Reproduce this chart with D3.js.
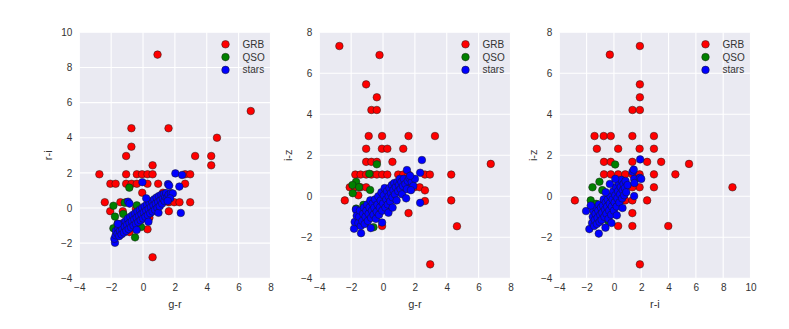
<!DOCTYPE html>
<html><head><meta charset="utf-8">
<script src="https://cdn.jsdelivr.net/npm/d3@7"></script>
<style>body{margin:0;background:#fff;} text{font-family:"Liberation Sans",Arial,sans-serif;}</style>
</head><body>
<svg id="c" width="789" height="329"></svg>
<script>
// ---------- data ----------
const seriesNames = ["GRB", "QSO", "stars"];
const seriesColors = ["#ff0000", "#008000", "#0000ff"];

// Panel 1: g-r vs r-i
const grbGrRi = [[0.91,8.73],[6.76,5.52],[-0.73,4.54],[1.6,4.54],[4.64,4.0],[-0.73,3.49],[-1.06,2.96],[3.27,2.96],[4.28,2.96],[4.28,2.43],[0.6,2.43],
 [-2.74,1.92],[-1.06,1.92],[-0.39,1.92],[-0.06,1.92],[0.28,1.92],[0.6,1.92],[2.64,1.92],[2.96,1.92],
 [-2.05,1.38],[-1.72,1.38],[-1.06,1.38],[-0.72,1.38],[-0.39,1.38],[0.28,1.38],[0.95,1.38],[2.64,1.38],
 [-0.05,0.87],[1.25,0.87],
 [-2.4,0.33],[-1.42,0.33],[-1.06,0.33],[0.95,0.33],[1.62,0.33],[1.96,0.33],[2.29,0.33],[2.96,0.33],
 [1.62,-0.18],[-2.06,-0.18],[-1.27,-0.18],[0.28,-1.21],[-0.85,-1.37],[0.6,-2.8],[-0.45,-0.05],[0.4,-0.55]];
const qsoGrRi = [[-0.86,1.16],[-1.86,0.13],[-1.76,-0.49],[-1.86,-1.15],[-0.5,-1.67],[-0.12,-1.08],[-1.24,-0.34],[-1.15,0.3],[-0.39,0.15],[-1.6,-0.9]];
const starsGrRi = [[-1.76,-1.98],[-1.8,-1.75],[-1.72,-1.55],[-1.7,-1.3],[-1.6,-1.45],[-1.55,-1.15],[-1.5,-1.6],[-1.45,-1.3],[-1.4,-1.0],[-1.35,-1.5],[-1.3,-1.2],[-1.25,-0.85],[-1.2,-1.4],[-1.15,-1.05],[-1.1,-0.75],[-1.05,-1.3],[-1.0,-0.95],[-0.95,-0.6],[-0.9,-1.2],[-0.85,-0.85],[-0.8,-0.5],[-0.75,-1.1],[-0.7,-0.75],[-0.65,-0.4],[-0.6,-1.0],[-0.55,-0.65],[-0.5,-0.3],[-0.45,-0.9],[-0.4,-0.55],[-0.4,-1.25],[-0.35,-0.2],[-0.3,-0.8],[-0.25,-0.45],[-0.2,-0.1],[-0.15,-0.7],[-0.1,-0.35],[-0.05,0.0],[0.0,-0.6],[0.05,-0.25],[0.1,0.1],[0.15,-0.5],[0.2,-0.15],[0.25,0.2],[0.3,-0.4],[0.34,-0.78],[0.35,-0.05],[0.4,0.3],[0.45,-0.3],[0.5,0.05],[0.55,0.4],[0.6,-0.2],[0.65,0.15],[0.7,0.5],[0.75,-0.1],[0.8,0.25],[0.85,0.6],[0.9,0.0],[0.95,0.35],[0.97,-0.27],[1.0,0.68],[1.05,0.1],[1.1,0.45],[1.15,0.75],[1.2,0.25],[1.25,0.55],[1.3,0.8],[1.35,0.4],[1.4,0.65],[1.45,0.85],[1.53,0.6],[1.6,0.75],[1.75,0.85],[1.87,0.83],[1.7,0.55],[1.55,0.4],
 [2.03,1.97],[2.45,1.88],[2.28,1.22],[1.57,1.36],[1.64,1.28],[-0.04,1.47],[-0.94,0.36],[-0.85,0.25],[2.37,-0.28],[0.2,0.55],[-1.58,-0.9]];

// Panel 2: g-r vs i-z
const grbGrIz = [[-2.74,7.33],[-0.22,6.89],[-1.06,5.46],[-0.39,4.83],[-0.73,4.21],[-0.39,4.21],
 [-0.9,2.94],[-0.06,2.94],[1.6,2.94],[3.26,2.94],
 [-1.06,2.32],[-0.07,2.32],[0.27,2.32],[1.27,2.32],
 [-1.06,1.68],[-0.73,1.68],[-0.39,1.68],[0.59,1.68],[6.76,1.58],
 [-1.74,1.06],[-1.41,1.06],[-1.06,1.06],[-0.73,1.06],[-0.39,1.06],[-0.05,1.06],[0.27,1.06],[0.95,1.06],[1.27,1.06],[1.6,1.06],[2.63,1.06],[2.94,1.06],[4.28,1.06],
 [-2.09,0.44],[-1.76,0.44],[-1.42,0.44],[-1.06,0.44],[1.64,0.44],[1.97,0.44],[2.3,0.44],
 [2.63,0.29],[2.63,-0.23],[4.28,-0.2],[-2.4,-0.2],[-1.55,0.05],[1.6,-0.82],[4.64,-1.46],[-0.06,-1.45],[2.96,-3.32]];
const qsoGrIz = [[-0.39,1.56],[-0.86,1.1],[-1.69,0.71],[-1.92,0.55],[-1.9,0.15],[-0.81,0.31],[-1.23,-0.42],[-1.69,-0.6],[-0.6,-1.51],[-1.5,0.45]];
const starsGrIz = [[-1.82,-1.58],[-1.78,-1.25],[-1.7,-0.65],[-1.65,-0.95],[-1.55,-1.3],[-1.5,-1.0],[-1.45,-0.7],[-1.38,-1.8],[-1.4,-1.45],[-1.3,-1.2],[-1.25,-0.85],[-1.2,-0.55],[-1.15,-1.35],[-1.1,-1.0],[-1.05,-0.7],[-1.0,-0.4],[-0.95,-1.2],[-0.9,-0.85],[-0.85,-0.55],[-0.8,-0.2],[-0.77,-1.55],[-0.75,-1.05],[-0.7,-0.7],[-0.65,-0.35],[-0.6,-0.9],[-0.55,-0.55],[-0.5,-0.15],[-0.45,-1.1],[-0.4,-0.75],[-0.35,-0.4],[-0.3,0.0],[-0.25,-0.9],[-0.2,-0.55],[-0.15,-0.2],[-0.1,0.2],[-0.06,-1.28],[-0.05,-0.7],[0.0,-0.35],[0.05,0.05],[0.1,0.4],[0.15,-0.55],[0.2,-0.15],[0.25,0.25],[0.3,-0.4],[0.34,-0.8],[0.35,0.0],[0.4,0.4],[0.45,-0.25],[0.5,0.15],[0.55,0.55],[0.6,-0.05],[0.65,0.3],[0.7,0.65],[0.75,0.1],[0.8,0.45],[0.85,-0.2],[0.9,0.7],[0.95,0.25],[1.0,0.55],[1.05,0.85],[1.1,0.35],[1.15,0.7],[1.2,0.1],[1.25,0.5],[1.3,0.85],[1.4,0.6],[1.5,0.35],[1.55,0.75],[1.65,0.9],[1.8,0.7],[2.0,0.85],[1.9,0.5],[1.45,-0.1],[1.75,0.3],
 [2.44,1.77],[1.5,1.28],[2.33,1.15],[2.33,-0.32],[1.7,1.0],[0.6,-0.55]];

// Panel 3: r-i vs i-z
const grbRiIz = [[1.9,7.33],[-0.3,6.91],[1.9,5.46],[1.9,4.83],[1.36,4.21],[1.9,4.21],
 [-1.42,2.94],[-0.75,2.94],[-0.23,2.94],[1.35,2.94],[2.93,2.94],
 [-1.25,2.32],[0.31,2.32],[1.88,2.32],[2.93,2.32],
 [-0.73,1.68],[-0.23,1.68],[1.35,1.68],[2.43,1.68],[3.46,1.68],[5.5,1.58],
 [-0.73,1.07],[-0.23,1.07],[0.31,1.07],[0.83,1.07],[1.35,1.07],[1.88,1.07],[2.93,1.07],[4.5,1.07],
 [1.88,0.44],[2.93,0.44],[8.68,0.44],[1.35,0.44],
 [-2.86,-0.2],[0.83,-0.2],[1.35,-0.2],[2.43,-0.2],
 [1.35,-0.82],[0.31,-1.45],[1.35,-1.45],[3.98,-1.45],[1.9,-3.32]];
const qsoRiIz = [[0.09,1.55],[-1.06,0.71],[-1.57,0.44],[-1.7,-0.2],[-1.3,-0.37],[-0.4,-1.2],[-0.85,0.3],[-1.2,-0.6]];
const starsRiIz = [[-2.04,-0.72],[-1.8,-1.6],[-1.6,-1.3],[-1.55,-1.0],[-1.5,-0.7],[-1.45,-1.45],[-1.4,-1.15],[-1.35,-0.85],[-1.3,-0.55],[-1.25,-1.35],[-1.2,-1.05],[-1.15,-0.7],[-1.11,-1.82],[-1.1,-0.4],[-1.05,-1.25],[-1.0,-0.9],[-0.95,-0.55],[-0.9,-1.15],[-0.85,-0.8],[-0.8,-0.45],[-0.75,-0.15],[-0.7,-1.0],[-0.65,-0.65],[-0.62,-1.53],[-0.6,-0.3],[-0.55,-0.85],[-0.5,-0.5],[-0.45,-0.15],[-0.4,-1.1],[-0.35,-0.7],[-0.3,-0.35],[-0.25,0.0],[-0.2,-0.9],[-0.18,-1.3],[-0.15,-0.5],[-0.1,-0.15],[-0.05,0.25],[0.0,-0.7],[0.05,-0.3],[0.1,0.05],[0.15,0.45],[0.2,-0.5],[0.21,-0.93],[0.25,-0.1],[0.3,0.25],[0.35,0.65],[0.4,-0.3],[0.45,0.1],[0.5,0.45],[0.55,0.8],[0.6,-0.1],[0.63,-0.57],[0.65,0.3],[0.7,0.6],[0.75,0.05],[0.8,0.4],[0.85,0.75],[0.9,0.2],[1.0,0.55],[-0.3,0.6],[0.1,0.85],[-0.6,0.2],
 [1.92,1.8],[1.36,1.2],[1.45,1.3],[1.48,0.84],[1.5,0.65],[1.48,0.01],[1.9,0.9],[2.0,0.85],[-1.7,-0.45]];

const xTicks12 = [-4,-2,0,2,4,6,8];
const xTicks3 = [-4,-2,0,2,4,6,8,10];
const yTicks1 = [-4,-2,0,2,4,6,8,10];
const yTicks23 = [-4,-2,0,2,4,6,8];

// ---------- layout ----------
const panels = [
  {left:79.3, xDom:[-4,8], yDom:[-4,10], xTicks:xTicks12, yTicks:yTicks1, xLabel:"g-r", yLabel:"r-i", data:[grbGrRi,qsoGrRi,starsGrRi]},
  {left:319.3, xDom:[-4,8], yDom:[-4,8], xTicks:xTicks12, yTicks:yTicks23, xLabel:"g-r", yLabel:"i-z", data:[grbGrIz,qsoGrIz,starsGrIz]},
  {left:559.3, xDom:[-4,10], yDom:[-4,8], xTicks:xTicks3, yTicks:yTicks23, xLabel:"r-i", yLabel:"i-z", data:[grbRiIz,qsoRiIz,starsRiIz]}
];
const plotW = 191.2, plotTop = 32.3, plotH = 246;
const svg = d3.select("#c");
const textCol = "#333";

panels.forEach((p, pi) => {
  const g = svg.append("g").attr("transform", `translate(${p.left},${plotTop})`);
  const x = d3.scaleLinear().domain(p.xDom).range([0, plotW]);
  const y = d3.scaleLinear().domain(p.yDom).range([plotH, 0]);
  g.append("rect").attr("width", plotW).attr("height", plotH).attr("fill", "#eaeaf2");
  g.append("g").selectAll("line").data(p.xTicks).join("line")
    .attr("x1", d => x(d)).attr("x2", d => x(d)).attr("y1", 0).attr("y2", plotH)
    .attr("stroke", "#fff").attr("stroke-width", 1.1);
  g.append("g").selectAll("line").data(p.yTicks).join("line")
    .attr("y1", d => y(d)).attr("y2", d => y(d)).attr("x1", 0).attr("x2", plotW)
    .attr("stroke", "#fff").attr("stroke-width", 1.1);
  const fmt = d => d < 0 ? "\u2212" + Math.abs(d) : String(d);
  const xa = g.append("g").attr("transform", `translate(0,${plotH})`)
    .call(d3.axisBottom(x).tickValues(p.xTicks).tickSize(0).tickPadding(6).tickFormat(fmt));
  const ya = g.append("g")
    .call(d3.axisLeft(y).tickValues(p.yTicks).tickSize(0).tickPadding(7).tickFormat(fmt));
  [xa, ya].forEach(a => {
    a.select(".domain").remove();
    a.selectAll("text").attr("fill", textCol).attr("font-size", 10).attr("font-family", "Liberation Sans, Arial, sans-serif");
  });
  g.append("text").attr("x", plotW/2).attr("y", plotH + 30).attr("text-anchor", "middle")
    .attr("font-size", 11).attr("fill", textCol).text(p.xLabel);
  g.append("text").attr("transform", `translate(${pi === 2 ? -22 : -27},${plotH/2}) rotate(-90)`)
    .attr("text-anchor", "middle").attr("font-size", 11).attr("fill", textCol).text(p.yLabel);
  const clip = "clip" + pi;
  g.append("clipPath").attr("id", clip).append("rect").attr("width", plotW).attr("height", plotH);
  const pts = g.append("g").attr("clip-path", `url(#${clip})`);
  p.data.forEach((arr, si) => {
    pts.append("g").selectAll("circle").data(arr).join("circle")
      .attr("cx", d => x(d[0])).attr("cy", d => y(d[1])).attr("r", 3.8)
      .attr("fill", seriesColors[si]).attr("stroke", "#1a1a1a").attr("stroke-width", 0.5);
  });
  const lg = g.append("g").attr("transform", `translate(${plotW - 45},${12})`);
  seriesNames.forEach((n, si) => {
    lg.append("circle").attr("cx", 0).attr("cy", si * 12.8).attr("r", 3.8)
      .attr("fill", seriesColors[si]).attr("stroke", "#1a1a1a").attr("stroke-width", 0.5);
    lg.append("text").attr("x", 17).attr("y", si * 12.8 + 3.6).attr("font-size", 10)
      .attr("fill", textCol).text(n);
  });
});
</script>
</body></html>
